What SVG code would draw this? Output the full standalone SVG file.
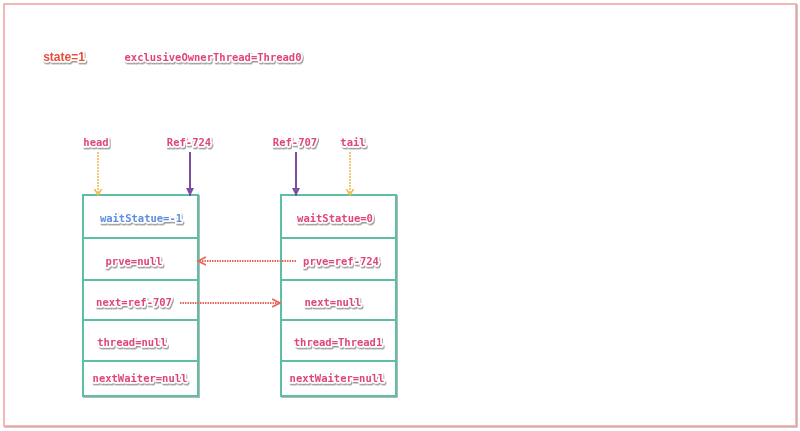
<svg xmlns="http://www.w3.org/2000/svg" width="800" height="431" viewBox="0 0 800 431">
<defs>
<filter id="sh" x="-20%" y="-50%" width="140%" height="200%">
<feDropShadow dx="1" dy="1.5" stdDeviation="0.5" flood-color="#555" flood-opacity="0.6"/>
</filter>
<filter id="bsh" x="-5%" y="-5%" width="110%" height="110%">
<feDropShadow dx="1" dy="1" stdDeviation="0.5" flood-color="#888" flood-opacity="0.6"/>
</filter>
<marker id="mOr" markerWidth="8" markerHeight="8" refX="6" refY="4" orient="auto" markerUnits="userSpaceOnUse">
<path d="M0,0.5 L6,4 L0,7.5" fill="none" stroke="#f0b84a" stroke-width="1.5"/>
</marker>
<marker id="mPu" markerWidth="10" markerHeight="10" refX="8" refY="5" orient="auto" markerUnits="userSpaceOnUse">
<path d="M0,1 L8,5 L0,9 Z" fill="#7a4fa0"/>
</marker>
<marker id="mRd" markerWidth="10" markerHeight="10" refX="8" refY="5" orient="auto" markerUnits="userSpaceOnUse">
<path d="M0,1 L8,5 L0,9" fill="none" stroke="#e8665a" stroke-width="1.8"/>
</marker>
</defs>
<style>
.t{font-family:"DejaVu Sans Mono","Liberation Mono",monospace;font-size:10.5px;font-weight:bold;fill:#e0457b;stroke:#fff;stroke-width:3.5px;paint-order:stroke;stroke-linejoin:round;filter:url(#sh);text-anchor:middle}
.b{fill:#5b8fe0}
.cell{fill:#fff;stroke:#5bbfa5;stroke-width:2;filter:url(#bsh)}
.sep{stroke:#5bbfa5;stroke-width:2}
.yel{stroke:#f0b84a;stroke-width:1.5;stroke-dasharray:2 1;fill:none}
.pur{stroke:#7a4fa0;stroke-width:2;fill:none}
.red{stroke:#e8665a;stroke-width:2;stroke-dasharray:1.5 1;fill:none}
</style>
<rect x="0" y="0" width="800" height="431" fill="#fff"/>
<rect x="4" y="4" width="792" height="422" fill="#fff" stroke="#f4a09a" stroke-width="1.5" filter="url(#bsh)"/>
<g id="state">
<text x="64" y="61" style="font-family:'Liberation Sans',Arial,sans-serif;font-weight:bold;font-size:12px;fill:#e8503a;stroke:#fff;stroke-width:3.5px;paint-order:stroke;stroke-linejoin:round;filter:url(#sh);text-anchor:middle">state=1</text>
</g>
<g id="owner"><text class="t" x="213" y="61">exclusiveOwnerThread=Thread0</text></g>
<g id="head"><text class="t" x="96" y="146">head</text></g>
<g id="ref724"><text class="t" x="189" y="146">Ref-724</text></g>
<g id="ref707"><text class="t" x="295" y="146">Ref-707</text></g>
<g id="tail"><text class="t" x="353" y="146">tail</text></g>
<g id="node724">
<rect class="cell" x="83" y="195" width="115" height="201"/>
<line class="sep" x1="83" y1="238" x2="198" y2="238"/>
<line class="sep" x1="83" y1="280" x2="198" y2="280"/>
<line class="sep" x1="83" y1="320" x2="198" y2="320"/>
<line class="sep" x1="83" y1="361" x2="198" y2="361"/>
<text class="t b" x="141" y="222">waitStatue=-1</text>
<text class="t" x="134" y="265">prve=null</text>
<text class="t" x="134" y="306">next=ref-707</text>
<text class="t" x="132" y="346">thread=null</text>
<text class="t" x="140" y="382">nextWaiter=null</text>
</g>
<g id="node707">
<rect class="cell" x="281" y="195" width="115" height="201"/>
<line class="sep" x1="281" y1="238" x2="396" y2="238"/>
<line class="sep" x1="281" y1="280" x2="396" y2="280"/>
<line class="sep" x1="281" y1="320" x2="396" y2="320"/>
<line class="sep" x1="281" y1="361" x2="396" y2="361"/>
<text class="t" x="335" y="222">waitStatue=0</text>
<text class="t" x="341" y="265">prve=ref-724</text>
<text class="t" x="333" y="306">next=null</text>
<text class="t" x="338" y="346">thread=Thread1</text>
<text class="t" x="337" y="382">nextWaiter=null</text>
</g>
<g id="connectors">
<line class="yel" x1="98" y1="152" x2="98" y2="195" marker-end="url(#mOr)"/>
<line class="pur" x1="190" y1="152" x2="190" y2="196" marker-end="url(#mPu)"/>
<line class="pur" x1="296" y1="152" x2="296" y2="196" marker-end="url(#mPu)"/>
<line class="yel" x1="350" y1="152" x2="350" y2="195" marker-end="url(#mOr)"/>
<line class="red" x1="296" y1="261" x2="198" y2="261" marker-end="url(#mRd)"/>
<line class="red" x1="180" y1="303" x2="280" y2="303" marker-end="url(#mRd)"/>
</g>
</svg>
